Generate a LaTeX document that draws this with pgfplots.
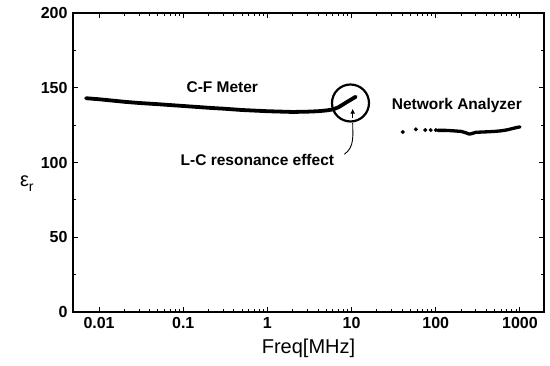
\documentclass[border=0pt]{standalone}
\usepackage{pgfplots}
\pgfplotsset{compat=1.18}
\usepackage{fontspec}
\setmainfont{Liberation Sans}
\usetikzlibrary{arrows.meta}
\begin{document}
\begin{tikzpicture}
\begin{axis}[
  at={(0,0)}, anchor=south west,
  scale only axis, width=471pt, height=299pt,
  xmode=log, xmin=0.0049, xmax=1930,
  ymin=0, ymax=200,
  axis line style={line width=1.5pt},
  every tick/.style={line width=1pt, black},
  major tick length=5pt, minor tick length=3pt,
  tick align=inside, xtick pos=both, ytick pos=both,
  xtick={0.01,0.1,1,10,100,1000},
  xticklabels={0.01,0.1,1,10,100,1000},
  ytick={0,50,100,150,200},
  yticklabels={0,50,100,150,200},
  minor y tick num=1,
  tick label style={font=\fontsize{16}{16}\selectfont\bfseries},
  xticklabel style={yshift=-2pt},
  yticklabel style={xshift=-2pt},
  xlabel={Freq[MHz]},
  xlabel style={font=\fontsize{20}{22}\selectfont, at={(axis description cs:0.5,-0.12)}, anchor=center},
  ylabel={{\fontsize{20}{20}\selectfont ε}{\fontsize{14}{14}\selectfont\raisebox{-5pt}{r}}},
  ylabel style={rotate=-90, at={(axis description cs:-0.098,0.431)}, anchor=center},
  clip=false,
]
% C-F Meter
\addplot[black, line width=3.8pt, line cap=round, line join=round] coordinates {
(0.007,143) (0.01,142.3) (0.02,140.6) (0.03,139.8) (0.05,139) (0.1,137.8)
(0.2,136.6) (0.3,136) (0.5,135.1) (1,134.3) (2,133.8) (3,134) (4,134.3)
(5,134.8) (6,135.5) (7,137) (8,139) (9,140.8) (10,142.3) (11.2,144)
};
% Network Analyzer dots
\addplot[black, only marks, mark=*, mark size=1.8pt] coordinates {
(40.5,120.4) (58,122.2) (75,121.7) (87,121.7) (100,121.7)
};
% Network Analyzer line
\addplot[black, line width=3.3pt, line cap=round, line join=round] coordinates {
(105,121.5) (130,121.5) (160,121.2) (200,120.8) (230,119.8) (250,119.0)
(270,119.4) (300,120.2) (400,120.5) (500,120.8) (600,121.2) (700,121.8)
(800,122.6) (900,123.3) (1000,123.8)
};
% annotations
\draw[line width=2.2pt] (axis cs:9.7,139.8) circle [radius=18.5pt];
\draw[line width=1.4pt, -{Latex[length=5pt,width=5pt]}] (axis cs:10.3,129.5) -- (axis cs:10.3,136);
\draw[line width=0.9pt] (axis cs:10.3,126.5) to[out=-90, in=35] (axis cs:8.2,105.5);
\node[font=\fontsize{15.5}{16}\selectfont\bfseries] at (axis cs:0.291,150.5) {C-F Meter};
\node[font=\fontsize{15.5}{16}\selectfont\bfseries] at (axis cs:0.76,101.7) {L-C resonance effect};
\node[font=\fontsize{15.5}{16}\selectfont\bfseries] at (axis cs:178,138.4) {Network Analyzer};
\end{axis}
\pgfresetboundingbox
\useasboundingbox (-73pt,-54pt) rectangle (477pt,312pt);
\end{tikzpicture}
\end{document}
